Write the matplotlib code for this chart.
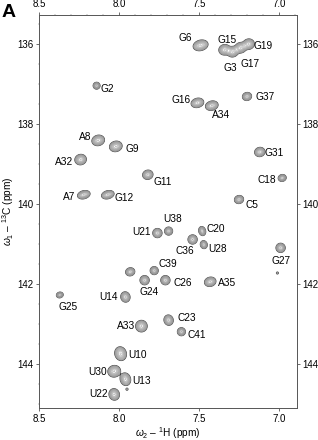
import numpy as np
import matplotlib
matplotlib.use("Agg")
import matplotlib.pyplot as plt

plt.rcParams['font.family'] = ['Liberation Sans', 'DejaVu Sans']
plt.rcParams['mathtext.fontset'] = 'custom'
plt.rcParams['mathtext.rm'] = 'Liberation Sans'
plt.rcParams['mathtext.it'] = 'Liberation Sans:italic'

# peak assignments, 1H shift (ppm), 13C shift (ppm)
names = ["G6", "G15", "G3", "G17", "G19", "G2", "G37", "G16", "A34",
         "A8", "G9", "A32", "G11", "C18", "G31", "A7", "G12", "C5",
         "U38", "U21", "C20", "C36", "U28", "G27", "C39", "", "G24",
         "C26", "A35", "U14", "G25", "A33", "C23", "C41", "U10", "U30",
         "U13", "U22", "", ""]
h_ppm = [7.49, 7.34, 7.29, 7.24, 7.19, 8.14, 7.20, 7.51, 7.42,
         8.13, 8.02, 8.24, 7.82, 6.98, 7.12, 8.22, 8.07, 7.25,
         7.69, 7.76, 7.48, 7.54, 7.47, 6.99, 7.78, 7.93, 7.84,
         7.71, 7.43, 7.96, 8.37, 7.86, 7.69, 7.61, 7.99, 8.03,
         7.96, 8.03, 7.01, 7.95]
c_ppm = [136.03, 136.14, 136.19, 136.09, 136.00, 137.04, 137.31, 137.47, 137.54,
         138.41, 138.56, 138.89, 139.27, 139.35, 138.70, 139.77, 139.77, 139.89,
         140.68, 140.73, 140.68, 140.89, 141.02, 141.10, 141.67, 141.70, 141.91,
         141.91, 141.95, 142.33, 142.28, 143.06, 142.91, 143.20, 143.75, 144.19,
         144.39, 144.77, 141.73, 144.64]
intensity = [1.0] * 38 + [0.15, 0.15]

# peak half-widths in pixels (along, across)
half_w = [6.5, 5.0, 5.0, 5.0, 5.0, 3.0, 4.0, 5.5, 5.5,
          5.5, 5.5, 5.0, 4.5, 3.5, 4.5, 5.5, 5.5, 4.0,
          3.5, 4.0, 3.0, 4.0, 3.0, 4.0, 3.5, 4.0, 4.0,
          4.0, 5.0, 4.0, 3.0, 5.0, 4.0, 3.5, 5.0, 5.5,
          4.5, 4.5, 2.0, 2.0]
half_h = [4.5, 4.5, 4.5, 4.5, 4.5, 3.0, 3.5, 4.0, 4.0,
          4.5, 4.5, 4.5, 4.0, 3.0, 4.0, 3.5, 3.5, 3.5,
          3.5, 4.0, 4.0, 4.0, 3.5, 4.0, 3.5, 3.5, 4.0,
          4.0, 4.0, 4.5, 2.5, 5.0, 4.5, 3.5, 6.0, 5.0,
          5.5, 5.0, 2.0, 2.0]

# label offsets in pixels (dx, dy up)
lab_off = [(-15, 7), (2, 10), (-2, -16), (9, -16), (14, -2), (11, -3), (18, -1), (-16, 3), (9, -9),
           (-13, 3), (16, -3), (-17, -2), (15, -7), (-15, -2), (14, -1), (-15, -2), (16, -3), (13, -5),
           (4, 12), (-16, 1), (14, 2), (-8, -12), (14, -4), (0, -13), (14, 7), (0, 0), (4, -12),
           (17, -3), (17, -1), (-17, 0), (8, -12), (-15, 0), (18, 2), (15, -3), (17, -1), (-17, -1),
           (16, -2), (-16, 0), (0, 0), (0, 0)]

x_lo, x_hi = 6.8875, 8.5
y_lo, y_hi = 135.27, 145.11

fig = plt.figure(figsize=(3.18, 4.40), dpi=100)
ax = fig.add_axes([39/318, 1 - 408/440, 258/318, 393/440])

# build spectrum surface in pixel space
hx = np.linspace(x_lo, x_hi, 800)
cy = np.linspace(y_lo, y_hi, 1200)
H, C = np.meshgrid(hx, cy)
SX = (8.5 - H) * 160.0
SY = (y_hi - C) * 40.0
Z = np.zeros_like(H)
th = np.deg2rad(15)
for h, c, a, w, v in zip(h_ppm, c_ppm, intensity, half_w, half_h):
    dx = SX - (8.5 - h) * 160.0
    dy = SY - (y_hi - c) * 40.0
    u = dx * np.cos(th) + dy * np.sin(th)
    t = -dx * np.sin(th) + dy * np.cos(th)
    sa, sb = 1.15 * w / 2.15, 1.15 * v / 2.15
    Z += a * np.exp(-(u**2 / (2 * sa**2) + t**2 / (2 * sb**2)))

levels = np.geomspace(0.09, 0.97, 12)
cols = ['#3c3c3c'] + ['#8f8f8f'] * 11
lws = [0.6] + [0.3] * 11
ax.contour(H, C, Z, levels=levels, colors=cols, linewidths=lws)

for n, h, c, (ox, oy) in zip(names, h_ppm, c_ppm, lab_off):
    if n:
        ax.annotate(n, (h, c), xytext=(ox, oy), textcoords='offset pixels',
                    ha='center', va='center', fontsize=7.3)

ax.set_xlim(x_hi, x_lo)
ax.set_ylim(y_hi, y_lo)
ax.set_xticks([8.5, 8.0, 7.5, 7.0])
ax.set_xticklabels(["8.5", "8.0", "7.5", "7.0"])
ax.set_yticks([136, 138, 140, 142, 144])
ax.set_xticks(np.arange(6.9, 8.5, 0.1), minor=True)
ax.set_yticks(np.arange(135.5, 145.1, 0.5), minor=True)
ax.tick_params(which='both', top=True, right=True, labeltop=True, labelright=True,
               labelsize=7, direction='out', color='#555555', pad=1.5)
ax.tick_params(which='major', length=2.5, width=0.6)
ax.tick_params(which='minor', length=1.0, width=0.3)
for s in ax.spines.values():
    s.set_color('#555555')
    s.set_linewidth(0.7)

ax.set_xlabel(r'$\omega_2$ – $^{1}$H (ppm)', fontsize=7.3, labelpad=1)
ax.set_ylabel(r'$\omega_1$ – $^{13}$C (ppm)', fontsize=7.3, labelpad=0.5)

fig.text(0.005, 0.99, "A", fontsize=14, fontweight='bold', ha='left', va='top')

fig.savefig("out.png", dpi=100)
